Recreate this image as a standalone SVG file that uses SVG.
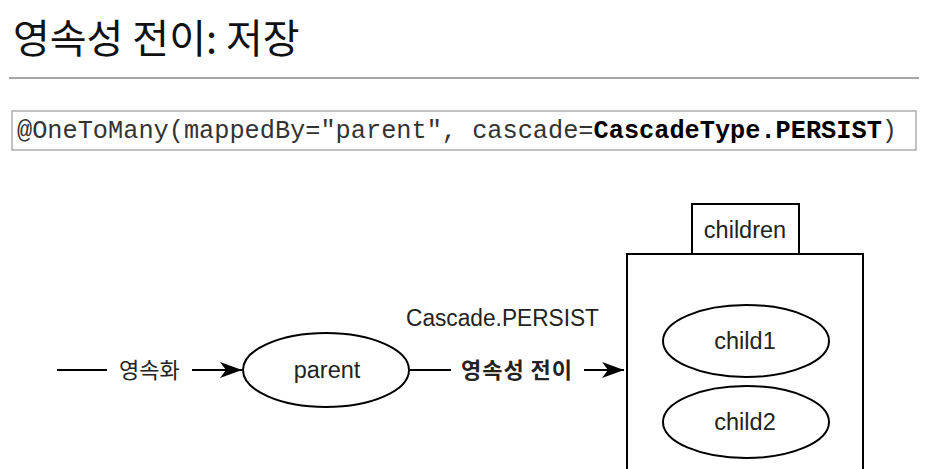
<svg xmlns="http://www.w3.org/2000/svg" width="927" height="469" viewBox="0 0 927 469">
<style>
.lbl{font-family:"Liberation Sans","Noto Sans CJK KR",sans-serif;font-size:23.5px;fill:#222}
.kr{font-family:"Noto Sans CJK KR","Liberation Sans",sans-serif;font-size:22px;fill:#222}
.ln{stroke:#000;stroke-width:2;fill:none}
.shape{stroke:#000;stroke-width:2;fill:#fff}
.code{font-family:"Liberation Mono","Courier New",monospace;font-size:25px;fill:#333}
</style>
<defs>
<marker id="arr" markerWidth="24" markerHeight="16" viewBox="0 0 24 16" refX="22" refY="8" orient="auto" markerUnits="userSpaceOnUse">
<path d="M0,0 L22,8 L0,16 L6,8 Z" fill="#000"/>
</marker>
</defs>
<rect width="927" height="469" fill="#fff"/>
<text x="13" y="53" font-family="Noto Sans CJK KR, sans-serif" font-size="40" fill="#111">영속성 전이: 저장</text>
<line x1="9" y1="78" x2="919" y2="78" stroke="#888" stroke-width="1.5"/>
<g id="code">
<rect x="12" y="111" width="904" height="39" fill="#fff" stroke="#999" stroke-width="1.2"/>
<text class="code" x="17" y="138" textLength="880" lengthAdjust="spacingAndGlyphs">@OneToMany(mappedBy="parent", cascade=<tspan font-weight="bold" fill="#000">CascadeType.PERSIST</tspan>)</text>
</g>
<g id="connectors">
<line class="ln" x1="57" y1="370" x2="107" y2="370"/>
<text class="kr" x="119" y="378">영속화</text>
<line class="ln" x1="192" y1="370" x2="242" y2="370" marker-end="url(#arr)"/>
<line class="ln" x1="410" y1="370" x2="451" y2="370"/>
<text class="lbl" x="406" y="326" textLength="193" lengthAdjust="spacingAndGlyphs">Cascade.PERSIST</text>
<text class="kr" x="461" y="378" font-weight="bold" font-size="24" fill="#111" textLength="111">영속성 전이</text>
<line class="ln" x1="584" y1="370" x2="624" y2="370" marker-end="url(#arr)"/>
</g>
<g id="parent">
<ellipse class="shape" cx="326" cy="370" rx="83" ry="37"/>
<text class="lbl" x="327" y="378" text-anchor="middle">parent</text>
</g>
<g id="children">
<rect class="shape" x="627" y="254" width="236" height="230"/>
<rect class="shape" x="692" y="204" width="107" height="50"/>
<text class="lbl" x="745" y="238" text-anchor="middle">children</text>
</g>
<g id="child1">
<ellipse class="shape" cx="746" cy="341" rx="83" ry="36"/>
<text class="lbl" x="745" y="349" text-anchor="middle">child1</text>
</g>
<g id="child2">
<ellipse class="shape" cx="746" cy="422" rx="83" ry="36"/>
<text class="lbl" x="745" y="430" text-anchor="middle">child2</text>
</g>
</svg>
